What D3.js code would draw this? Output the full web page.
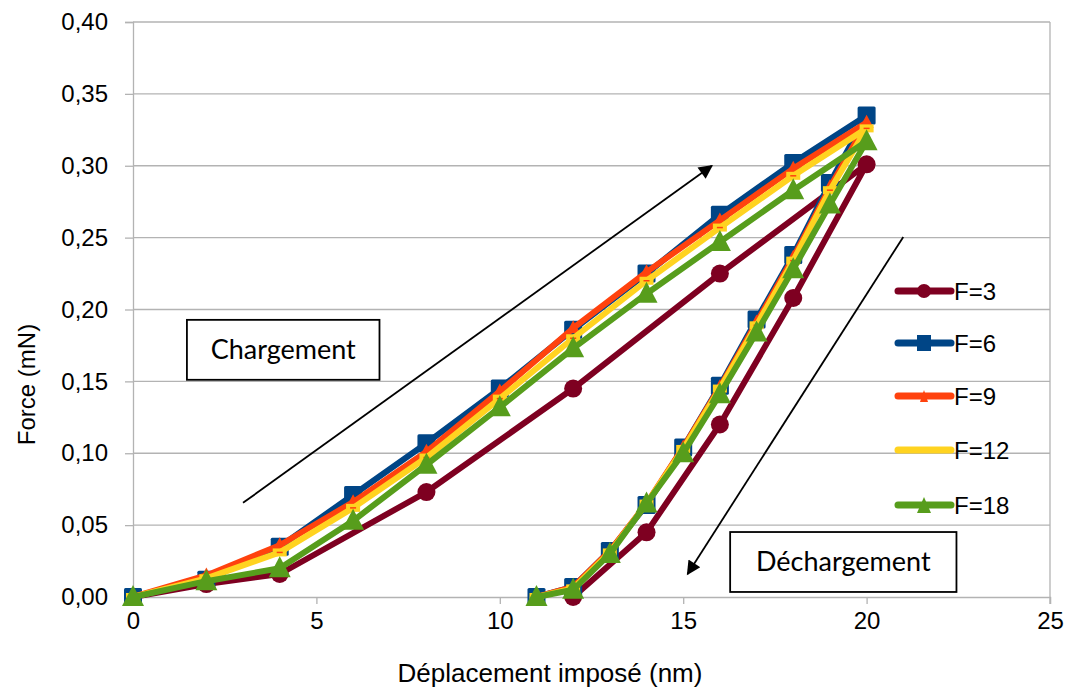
<!DOCTYPE html>
<html>
<head>
<meta charset="utf-8">
<script src="https://cdn.jsdelivr.net/npm/d3@7"></script>
<style>
  body { margin: 0; background: #fff; }
  svg { display: block; font-family: "Liberation Sans", Arial, sans-serif; }
</style>
</head>
<body>
<div id="chart"></div>
<script>
// Data (displacement in nm, force in mN)
const xLoad = [0, 2, 4, 6, 8, 10, 12, 14, 16, 18, 20];
const xUnload = [19, 18, 17, 16, 15, 14, 13, 12, 11];
const xF3 = [0, 2, 4, 8, 12, 16, 20, 18, 16, 14, 12];

const yF3 = [0, 0.009, 0.016, 0.073, 0.145, 0.225, 0.301, 0.208, 0.120, 0.045, 0.0];
const yF6 = [0, 0.012, 0.035, 0.071, 0.107, 0.145, 0.186, 0.225, 0.266, 0.302, 0.335,
             0.288, 0.238, 0.193, 0.147, 0.104, 0.064, 0.032, 0.007, 0.0];
const yF9 = [0, 0.015, 0.036, 0.066, 0.101, 0.143, 0.187, 0.226, 0.262, 0.298, 0.330,
             0.285, 0.236, 0.191, 0.146, 0.104, 0.065, 0.032, 0.007, 0.0];
const yF12 = [0, 0.013, 0.031, 0.062, 0.097, 0.138, 0.180, 0.220, 0.257, 0.293, 0.326,
              0.283, 0.234, 0.189, 0.145, 0.103, 0.065, 0.031, 0.006, 0.0];
const yF18 = [0, 0.011, 0.020, 0.053, 0.092, 0.132, 0.173, 0.211, 0.247, 0.283, 0.317,
              0.273, 0.228, 0.184, 0.141, 0.100, 0.065, 0.030, 0.005, 0.0];

const seriesNames = ['F=3', 'F=6', 'F=9', 'F=12', 'F=18'];
const yTicks = [0, 0.05, 0.10, 0.15, 0.20, 0.25, 0.30, 0.35, 0.40];
const xTicks = [0, 5, 10, 15, 20, 25];

const xFull = xLoad.concat(xUnload);
const series = [
    { name: seriesNames[0], xs: xF3, ys: yF3, color: '#7e0021', marker: 'circle' },
    { name: seriesNames[1], xs: xFull, ys: yF6, color: '#004586', marker: 'square' },
    { name: seriesNames[2], xs: xFull, ys: yF9, color: '#ff420e', marker: 'smallTri' },
    { name: seriesNames[3], xs: xFull, ys: yF12, color: '#ffd320', marker: 'bar' },
    { name: seriesNames[4], xs: xFull, ys: yF18, color: '#579d1c', marker: 'triangle' }
];

const W = 1066, H = 689;
const margin = { top: 22, right: 16, bottom: 92, left: 133 };
const width = W - margin.left - margin.right;
const height = H - margin.top - margin.bottom;

const svg = d3.select('#chart').append('svg')
    .attr('width', W).attr('height', H);

const g = svg.append('g')
    .attr('transform', `translate(${margin.left},${margin.top})`);

const x = d3.scaleLinear().domain([0, 25]).range([0, width]);
const y = d3.scaleLinear().domain([0, 0.40]).range([height, 0]);

const gridColor = '#b3b3b3';
const fmt = d => d3.format('.2f')(d).replace('.', ',');

// Horizontal gridlines
g.append('g')
    .selectAll('line')
    .data(yTicks.filter(d => d > 0))
    .enter().append('line')
    .attr('x1', 0).attr('x2', width)
    .attr('y1', d => y(d)).attr('y2', d => y(d))
    .attr('stroke', gridColor).attr('stroke-width', 1.3);

// Right border
g.append('line')
    .attr('x1', width).attr('x2', width)
    .attr('y1', 0).attr('y2', height + 7)
    .attr('stroke', gridColor).attr('stroke-width', 1.3);

// Y axis
const yAxis = g.append('g')
    .call(d3.axisLeft(y).tickValues(yTicks).tickFormat(fmt).tickSizeOuter(0).tickSize(8).tickPadding(17));
// X axis
const xAxis = g.append('g')
    .attr('transform', `translate(0,${height})`)
    .call(d3.axisBottom(x).tickValues(xTicks).tickSizeOuter(0).tickSize(7).tickPadding(8));

[yAxis, xAxis].forEach(ax => {
    ax.select('.domain').attr('stroke', gridColor).attr('stroke-width', 1.3);
    ax.selectAll('.tick line').attr('stroke', gridColor).attr('stroke-width', 1.3);
    ax.selectAll('.tick text')
        .attr('fill', '#000')
        .style('font-family', '"Liberation Sans", Arial, sans-serif')
        .style('font-size', '24px');
});

// Axis titles
svg.append('text')
    .attr('x', 550).attr('y', 682)
    .attr('text-anchor', 'middle')
    .style('font-size', '26px')
    .text('Déplacement imposé (nm)');

svg.append('text')
    .attr('transform', `translate(35,${margin.top + y(0.2) + 75}) rotate(-90)`)
    .attr('text-anchor', 'middle')
    .style('font-size', '24px')
    .text('Force (mN)');

// Marker drawing
function drawMarker(sel, type, color) {
    if (type === 'circle') {
        sel.append('circle').attr('r', 9).attr('fill', color);
    } else if (type === 'square') {
        sel.append('rect').attr('x', -9).attr('y', -9).attr('width', 18).attr('height', 18)
            .attr('rx', 1.5).attr('fill', color);
    } else if (type === 'smallTri') {
        sel.append('path').attr('d', 'M0,-8L7,5L-7,5Z').attr('fill', color);
    } else if (type === 'bar') {
        sel.append('rect').attr('x', -7).attr('y', -4).attr('width', 14).attr('height', 8)
            .attr('fill', color);
        sel.append('line').attr('x1', -3).attr('x2', 3).attr('y1', 0).attr('y2', 0)
            .attr('stroke', '#ff420e').attr('stroke-width', 1.5);
    } else if (type === 'triangle') {
        sel.append('path').attr('d', 'M0,-12L11,9L-11,9Z').attr('fill', color);
    }
}

const line = d3.line().x(d => x(d[0])).y(d => y(d[1]));

series.forEach(s => {
    const pts = s.xs.map((v, i) => [v, s.ys[i]]);
    const sg = g.append('g');
    sg.append('path')
        .datum(pts)
        .attr('d', line)
        .attr('fill', 'none')
        .attr('stroke', s.color)
        .attr('stroke-width', 6)
        .attr('stroke-linejoin', 'round')
        .attr('stroke-linecap', 'round');
    sg.selectAll('.pt')
        .data(pts)
        .enter().append('g')
        .attr('transform', d => `translate(${x(d[0])},${y(d[1])})`)
        .each(function() { drawMarker(d3.select(this), s.marker, s.color); });
});

// Legend
const legend = svg.append('g').attr('transform', 'translate(895,291)');
series.forEach((s, i) => {
    const row = legend.append('g').attr('transform', `translate(0,${[0, 52, 105, 159, 214][i]})`);
    row.append('line')
        .attr('x1', 3).attr('x2', 56).attr('y1', 0).attr('y2', 0)
        .attr('stroke', s.color).attr('stroke-width', 7).attr('stroke-linecap', 'round');
    if (s.marker !== 'bar') {
        const m = row.append('g').attr('transform', 'translate(29,0)');
        if (s.marker === 'circle') m.append('circle').attr('r', 7).attr('fill', s.color);
        if (s.marker === 'square') m.append('rect').attr('x', -7).attr('y', -8).attr('width', 14).attr('height', 16).attr('fill', s.color);
        if (s.marker === 'smallTri') m.append('path').attr('d', 'M0,-6L4,6L-4,6Z').attr('fill', s.color);
        if (s.marker === 'triangle') m.append('path').attr('d', 'M0,-8L7,8L-7,8Z').attr('fill', s.color);
    }
    row.append('text')
        .attr('x', 59).attr('y', 9)
        .style('font-size', '24px')
        .text(s.name);
});

// Annotations
const defs = svg.append('defs');
defs.append('marker')
    .attr('id', 'arrow')
    .attr('viewBox', '0 0 10 10')
    .attr('refX', 9).attr('refY', 5)
    .attr('markerWidth', 18).attr('markerHeight', 14)
    .attr('markerUnits', 'userSpaceOnUse')
    .attr('orient', 'auto')
    .append('path').attr('d', 'M0,0L10,5L0,10Z').attr('fill', '#000');

const arrows = [
    [[3.0, 0.0655], [15.78, 0.300]],
    [[21.0, 0.2505], [15.12, 0.016]]
];
arrows.forEach(a => {
    g.append('line')
        .attr('x1', x(a[0][0])).attr('y1', y(a[0][1]))
        .attr('x2', x(a[1][0])).attr('y2', y(a[1][1]))
        .attr('stroke', '#000').attr('stroke-width', 1.8)
        .attr('marker-end', 'url(#arrow)');
});

const boxes = [
    { text: 'Chargement', x0: 1.47, x1: 6.72, y0: 0.1928, y1: 0.1511 },
    { text: 'Déchargement', x0: 16.28, x1: 22.45, y0: 0.0452, y1: 0.0035 }
];
boxes.forEach(b => {
    g.append('rect')
        .attr('x', x(b.x0)).attr('y', y(b.y0))
        .attr('width', x(b.x1) - x(b.x0)).attr('height', y(b.y1) - y(b.y0))
        .attr('fill', '#fff').attr('stroke', '#000').attr('stroke-width', 1.8);
    g.append('text')
        .attr('x', (x(b.x0) + x(b.x1)) / 2)
        .attr('y', (y(b.y0) + y(b.y1)) / 2 + 9)
        .attr('text-anchor', 'middle')
        .style('font-family', 'Lato, "Open Sans", sans-serif')
        .style('font-size', '27px')
        .text(b.text);
});
</script>
</body>
</html>
